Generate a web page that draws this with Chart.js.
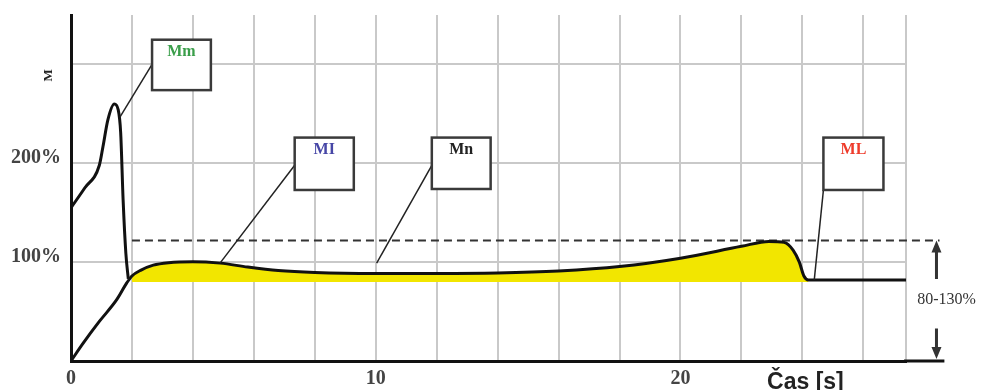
<!DOCTYPE html>
<html lang="cs">
<head>
  <meta charset="UTF-8">
  <title>Rozběh motoru</title>
  <script src="https://cdn.jsdelivr.net/npm/chart.js"></script>
  <style>
    body { margin: 0; background: #fff; }
    .chart-container { width: 983px; height: 390px; }
  </style>
</head>
<body>
  <div class="chart-container">
    <canvas id="chartCanvas"></canvas>
  </div>

  <script>
    // Rozběhový moment (Mm) – čas [s] / moment [%]
    const startX = [0, 0.45, 0.93, 1.05, 1.21, 1.42, 1.55, 1.63, 1.71, 1.8, 1.88];
    const startM = [155, 175, 198, 217, 244, 260, 254, 231, 163, 109, 83];

    // Moment motoru během rozběhu a chodu (Mn), pak zátěž ML
    const runX = [0, 0.4, 0.93, 1.5, 1.83, 2.0, 2.3, 2.7, 3.2, 4.0, 4.9, 5.8, 6.8, 8, 10, 12, 14, 16, 18, 20, 22, 22.9, 23.4, 23.7, 23.9, 24.05, 24.2, 27.4];
    const runM = [0, 18, 40, 62, 79, 86, 92, 97, 99.5, 100.5, 99, 95, 91.5, 89.5, 88.5, 88.5, 89, 91, 95.5, 104, 116, 121, 120, 112, 100, 86, 82, 82];

    // hranice žluté plochy (zátěžný moment) a čárkovaná mez
    const loadLevel = 80;
    const fillFrom = 2.0;
    const fillTo = 24.2;
    const dashX = [2, 28.5];
    const dashM = [122, 122];

    // popisky os
    const xLabels = [0, 10, 20];
    const yLabels = { 100: "100%", 200: "200%" };

    // bubliny s popisem
    const callouts = [
      { text: "Mm", color: "#3a9e4a", box: [2.66, 4.59, 325, 274], from: [2.66, 300], to: [1.61, 247] },
      { text: "MI", color: "#4646a6", box: [7.34, 9.28, 226, 173], from: [7.34, 198], to: [4.89, 99] },
      { text: "Mn", color: "#222222", box: [11.84, 13.77, 226, 174], from: [11.84, 198], to: [10.03, 99] },
      { text: "ML", color: "#ee3b2b", box: [24.69, 26.66, 226, 173], from: [24.69, 173], to: [24.39, 82] }
    ];

    const pts = (xs, ys) => xs.map((x, i) => ({ x: x, y: ys[i] }));
    const fillPts = pts(runX, runM).filter(p => p.x >= fillFrom && p.x <= fillTo);

    const serif = "'Liberation Serif', 'Times New Roman', serif";

    const decor = {
      id: "decor",
      beforeDatasetsDraw(chart) {
        const { ctx, chartArea: a } = chart;
        ctx.save();
        ctx.strokeStyle = "#c9c9c9";
        ctx.lineWidth = 2;
        ctx.beginPath();
        ctx.moveTo(a.right, a.top);
        ctx.lineTo(a.right, a.bottom);
        ctx.stroke();
        ctx.restore();
      },
      afterDraw(chart) {
        const { ctx, chartArea: a } = chart;
        const xs = chart.scales.x, ys = chart.scales.y;
        const px = v => xs.getPixelForValue(v);
        const py = v => ys.getPixelForValue(v);
        ctx.save();

        // prodloužení osy x pod šipku
        ctx.strokeStyle = "#111";
        ctx.lineWidth = 3;
        ctx.beginPath();
        ctx.moveTo(a.right - 2, py(0));
        ctx.lineTo(px(28.66), py(0));
        ctx.stroke();

        // šipka rozsahu 80-130%
        const ax = px(28.4);
        ctx.strokeStyle = "#333";
        ctx.fillStyle = "#333";
        ctx.lineWidth = 3;
        ctx.beginPath();
        ctx.moveTo(ax, py(122) + 8);
        ctx.lineTo(ax, py(83));
        ctx.moveTo(ax, py(33));
        ctx.lineTo(ax, py(0) - 8);
        ctx.stroke();
        ctx.beginPath();
        ctx.moveTo(ax, py(122));
        ctx.lineTo(ax - 5, py(122) + 12);
        ctx.lineTo(ax + 5, py(122) + 12);
        ctx.closePath();
        ctx.moveTo(ax, py(0) - 2);
        ctx.lineTo(ax - 5, py(0) - 14);
        ctx.lineTo(ax + 5, py(0) - 14);
        ctx.closePath();
        ctx.fill();
        ctx.font = "16px " + serif;
        ctx.textAlign = "center";
        ctx.textBaseline = "middle";
        ctx.fillText("80-130%", ax + 10, py(62));

        // bubliny
        callouts.forEach(c => {
          ctx.strokeStyle = "#222";
          ctx.lineWidth = 1.5;
          ctx.beginPath();
          ctx.moveTo(px(c.from[0]), py(c.from[1]));
          ctx.lineTo(px(c.to[0]), py(c.to[1]));
          ctx.stroke();
          const l = px(c.box[0]), r = px(c.box[1]), t = py(c.box[2]), b = py(c.box[3]);
          ctx.fillStyle = "#fff";
          ctx.fillRect(l, t, r - l, b - t);
          ctx.strokeStyle = "#3a3a3a";
          ctx.lineWidth = 2.5;
          ctx.strokeRect(l, t, r - l, b - t);
          ctx.fillStyle = c.color;
          ctx.font = "bold 16px " + serif;
          ctx.textAlign = "center";
          ctx.textBaseline = "middle";
          ctx.fillText(c.text, (l + r) / 2, t + 12);
        });

        // název osy y
        ctx.save();
        ctx.translate(a.left - 22, py(289));
        ctx.rotate(-Math.PI / 2);
        ctx.fillStyle = "#222";
        ctx.font = "bold 13px " + serif;
        ctx.textAlign = "center";
        ctx.textBaseline = "middle";
        ctx.fillText("M", 0, 0);
        ctx.restore();

        // název osy x
        ctx.fillStyle = "#222";
        ctx.font = "bold 23px 'Liberation Sans', Arial, sans-serif";
        ctx.textAlign = "center";
        ctx.textBaseline = "alphabetic";
        ctx.fillText("Čas [s]", px(24.1), chart.height - 1);

        ctx.restore();
      }
    };

    const ctx = document.getElementById("chartCanvas").getContext("2d");
    new Chart(ctx, {
      type: "line",
      data: {
        datasets: [
          {
            label: "ML plocha",
            data: fillPts,
            borderWidth: 0,
            backgroundColor: "#f2e600",
            fill: { value: loadLevel },
            pointRadius: 0,
            cubicInterpolationMode: "monotone",
            order: 5
          },
          {
            label: "Mn",
            data: pts(runX, runM),
            borderColor: "#111",
            borderWidth: 3,
            fill: false,
            pointRadius: 0,
            cubicInterpolationMode: "monotone",
            order: 1
          },
          {
            label: "Mm",
            data: pts(startX, startM),
            borderColor: "#111",
            borderWidth: 3,
            fill: false,
            pointRadius: 0,
            cubicInterpolationMode: "monotone",
            order: 1
          },
          {
            label: "mez",
            data: pts(dashX, dashM),
            borderColor: "#333",
            borderWidth: 2,
            borderDash: [8, 5],
            fill: false,
            pointRadius: 0,
            clip: false,
            order: 2
          }
        ]
      },
      options: {
        responsive: true,
        maintainAspectRatio: false,
        animation: false,
        layout: { padding: { top: 15, right: 77, left: 0, bottom: 0 } },
        plugins: {
          legend: { display: false },
          tooltip: { enabled: false }
        },
        scales: {
          x: {
            type: "linear",
            min: 0,
            max: 27.4,
            afterFit: s => { s.height = 29; s.paddingLeft = 0; s.paddingRight = 0; },
            grid: { color: "#c9c9c9", lineWidth: 2, drawTicks: false },
            border: { color: "#111", width: 3 },
            ticks: {
              stepSize: 2,
              includeBounds: false,
              autoSkip: false,
              maxRotation: 0,
              padding: 6,
              color: "#444",
              font: { family: serif, size: 20, weight: "bold" },
              callback: v => (xLabels.includes(v) ? String(v) : "")
            }
          },
          y: {
            min: 0,
            max: 350,
            afterFit: s => { s.width = 71; s.paddingTop = 0; s.paddingBottom = 0; },
            grid: { color: "#c9c9c9", lineWidth: 2, drawTicks: false },
            border: { color: "#111", width: 3 },
            ticks: {
              stepSize: 100,
              includeBounds: false,
              padding: 10,
              labelOffset: -5,
              color: "#444",
              font: { family: serif, size: 20, weight: "bold" },
              callback: v => yLabels[v] || ""
            }
          }
        }
      },
      plugins: [decor]
    });
  </script>
</body>
</html>
